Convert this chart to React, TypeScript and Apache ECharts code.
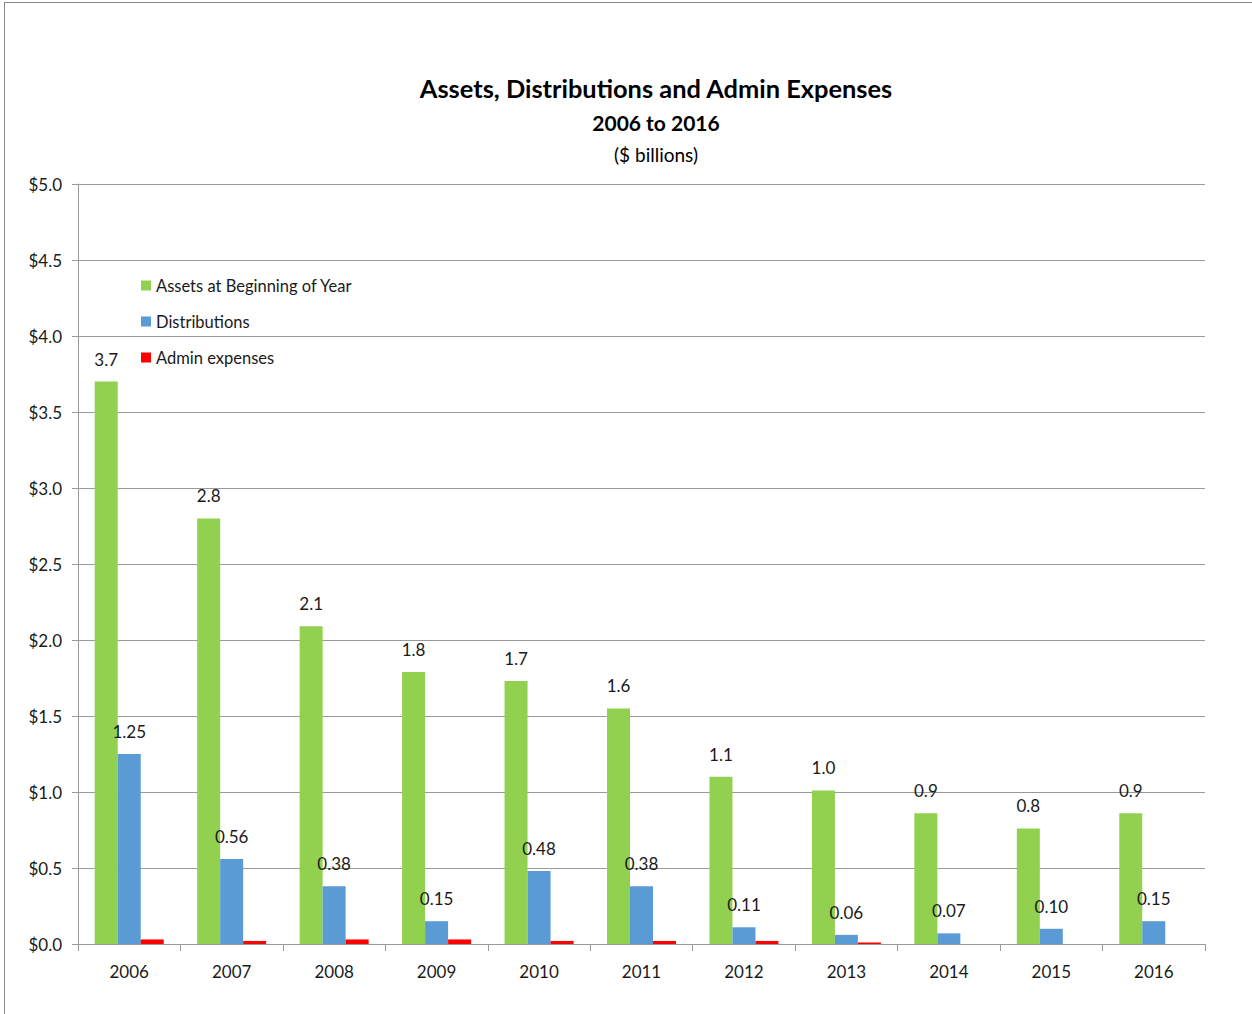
import React, { useEffect, useRef } from "react";
import * as echarts from "echarts";

const years = ["2006", "2007", "2008", "2009", "2010", "2011", "2012", "2013", "2014", "2015", "2016"];
const assets = [3.7, 2.8, 2.09, 1.79, 1.73, 1.55, 1.1, 1.01, 0.86, 0.76, 0.86];
const distributions = [1.25, 0.56, 0.38, 0.15, 0.48, 0.38, 0.11, 0.06, 0.07, 0.1, 0.15];
const adminExpenses = [0.03, 0.02, 0.03, 0.03, 0.02, 0.02, 0.02, 0.01, 0, 0, 0];
const yTicks = { min: 0, max: 5, interval: 0.5 };

const FONT = "Lato, 'Open Sans', sans-serif";
const TEXT = "#1a1a1a";
const GRID = "#9a9a9a";

export default function App() {
  const ref = useRef<HTMLDivElement>(null);
  useEffect(() => {
    if (!ref.current) return;
    const chart = echarts.init(ref.current, null, { renderer: "svg" });
    const labelStyle = {
      show: true,
      position: "top",
      distance: 14,
      fontSize: 17,
      color: TEXT,
      fontFamily: FONT,
    };
    chart.setOption({
      animation: false,
      backgroundColor: "#ffffff",
      textStyle: { fontFamily: FONT },
      graphic: [
        { type: "line", shape: { x1: 4, y1: 2.5, x2: 1252, y2: 2.5 }, style: { stroke: "#8a8a8a", lineWidth: 1 } },
        { type: "line", shape: { x1: 4.5, y1: 2, x2: 4.5, y2: 1014 }, style: { stroke: "#8a8a8a", lineWidth: 1 } },
        {
          type: "text", x: 656, y: 88,
          style: { text: "Assets, Distributions and Admin Expenses", font: `bold 25.4px ${FONT}`, fill: "#000", textAlign: "center", textVerticalAlign: "middle" },
        },
        {
          type: "text", x: 656, y: 122,
          style: { text: "2006 to 2016", font: `bold 21px ${FONT}`, fill: "#000", textAlign: "center", textVerticalAlign: "middle" },
        },
        {
          type: "text", x: 656, y: 154,
          style: { text: "($ billions)", font: `19px ${FONT}`, fill: "#000", textAlign: "center", textVerticalAlign: "middle" },
        },
      ],
      legend: {
        orient: "vertical",
        left: 136,
        top: 272,
        itemWidth: 10,
        itemHeight: 10,
        itemGap: 19,
        icon: "rect",
        textStyle: { fontSize: 16.5, color: TEXT, fontFamily: FONT },
        data: ["Assets at Beginning of Year", "Distributions", "Admin expenses"],
      },
      grid: { left: 78, right: 47, top: 184, bottom: 70, containLabel: false },
      xAxis: {
        type: "category",
        data: years,
        axisLine: { lineStyle: { color: GRID, width: 1 } },
        axisTick: { show: true, alignWithLabel: false, length: 7, lineStyle: { color: GRID } },
        axisLabel: { fontSize: 17, color: TEXT, margin: 19, fontFamily: FONT },
      },
      yAxis: {
        type: "value",
        min: yTicks.min,
        max: yTicks.max,
        interval: yTicks.interval,
        axisLine: { show: true, lineStyle: { color: GRID, width: 1 } },
        axisTick: { show: true, length: 6, lineStyle: { color: GRID } },
        splitLine: { show: true, lineStyle: { color: GRID, width: 1 } },
        axisLabel: {
          fontSize: 17,
          color: TEXT,
          margin: 16,
          fontFamily: FONT,
          formatter: (v: number) => "$" + v.toFixed(1),
        },
      },
      series: [
        {
          name: "Assets at Beginning of Year",
          type: "bar",
          data: assets,
          barWidth: 23,
          barGap: "0%",
          itemStyle: { color: "#92D050" },
          label: { ...labelStyle, formatter: (p: any) => Number(p.value).toFixed(1) },
        },
        {
          name: "Distributions",
          type: "bar",
          data: distributions,
          barWidth: 23,
          barGap: "0%",
          itemStyle: { color: "#5B9BD5" },
          label: { ...labelStyle, formatter: (p: any) => Number(p.value).toFixed(2) },
        },
        {
          name: "Admin expenses",
          type: "bar",
          data: adminExpenses,
          barWidth: 23,
          barGap: "0%",
          itemStyle: { color: "#FF0000" },
          label: { show: false },
        },
      ],
    });
    return () => chart.dispose();
  }, []);
  return (
    <div
      ref={ref}
      style={{ position: "absolute", left: 0, top: 0, width: 1252, height: 1014 }}
    />
  );
}
